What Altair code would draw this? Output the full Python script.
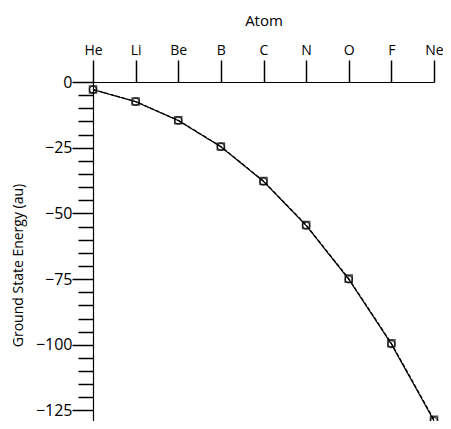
import altair as alt
import pandas as pd

atoms = ["He", "Li", "Be", "B", "C", "N", "O", "F", "Ne"]
exact = [-2.90, -7.48, -14.67, -24.65, -37.84, -54.59, -75.07, -99.73, -128.94]
hartree_fock = [-2.86, -7.43, -14.57, -24.53, -37.69, -54.40, -74.81, -99.41, -128.55]
y_ticks = list(range(0, -130, -5))

df = pd.DataFrame(
    {
        "atom": atoms * 2,
        "energy": exact + hartree_fock,
        "series": ["Exact"] * len(atoms) + ["Hartree-Fock"] * len(atoms),
    }
)

FONT = "Open Sans"

x = alt.X(
    "atom:N",
    sort=atoms,
    scale=alt.Scale(type="point", padding=0),
    axis=alt.Axis(
        orient="top",
        title="Atom",
        labelAngle=0,
        tickSize=22,
        labelPadding=3,
        titlePadding=15,
        labelFontSize=14,
        titleFontSize=15,
        titleFontWeight="normal",
        labelFont=FONT,
        titleFont=FONT,
        domainColor="black",
        tickColor="black",
        labelColor="black",
        titleColor="black",
        domainWidth=1.2,
        tickWidth=1.5,
        grid=False,
    ),
)

y = alt.Y(
    "energy:Q",
    scale=alt.Scale(domain=[-129, 0], nice=False, zero=False),
    axis=alt.Axis(
        title="Ground State Energy (au)",
        values=y_ticks,
        labelExpr="datum.value % 25 === 0 ? replace(datum.label, '-', '\u2212') : ''",
        tickSize={"condition": {"test": "datum.value % 25 === 0", "value": 21}, "value": 15},
        labelPadding=0,
        titlePadding=10,
        titleY=183,
        labelFontSize=16,
        titleFontSize=14,
        titleFontWeight="normal",
        labelFont=FONT,
        titleFont=FONT,
        domainColor="black",
        tickColor="black",
        labelColor="black",
        titleColor="black",
        domainWidth=1.2,
        tickWidth=1.5,
        grid=False,
    ),
)

base = alt.Chart(df).encode(x=x, y=y)

lines = base.mark_line(color="black", strokeWidth=1.2, clip=False).encode(
    strokeDash=alt.StrokeDash(
        "series:N",
        scale=alt.Scale(domain=["Exact", "Hartree-Fock"], range=[[1, 0], [4, 2]]),
        legend=None,
    ),
    detail="series:N",
)

points = base.mark_point(filled=False, color="black", strokeWidth=1.5, size=50, clip=False).encode(
    shape=alt.Shape(
        "series:N",
        scale=alt.Scale(domain=["Exact", "Hartree-Fock"], range=["circle", "square"]),
        legend=None,
    ),
)

chart = (
    alt.layer(lines, points)
    .properties(
        width=341,
        height=339,
        autosize=alt.AutoSizeParams(type="none"),
        padding={"left": 85, "top": 74, "right": 9, "bottom": 0},
    )
    .configure_view(stroke=None)
)

chart.save("out.html", embed_options={"renderer": "svg", "actions": False})
